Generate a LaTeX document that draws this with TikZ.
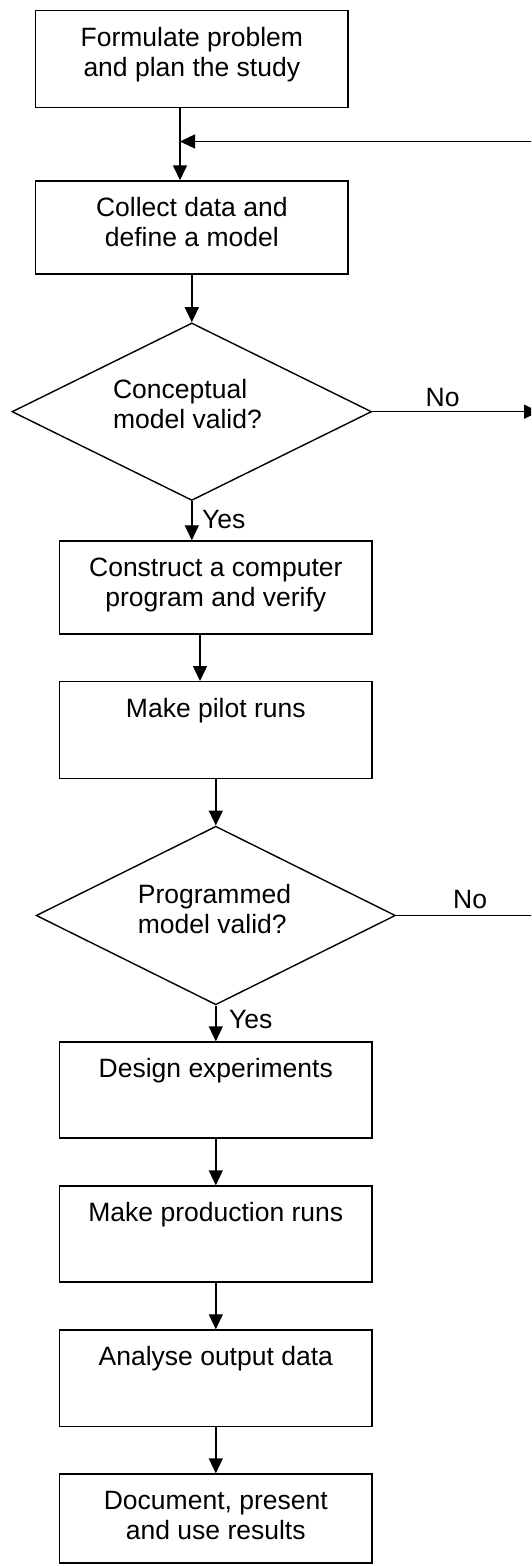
\documentclass[tikz,border=0pt]{standalone}
\usepackage{fontspec}
\setmainfont{Liberation Sans}
\usetikzlibrary{shapes.geometric,arrows.meta,calc}
\begin{document}
\begin{tikzpicture}[x=0.5pt,y=-0.5pt, line width=0.7pt,
  box/.style={draw, rectangle, minimum width=156.3pt, inner sep=0pt},
  dia/.style={draw, diamond, inner sep=0pt},
  txt/.style={inner sep=0pt, align=center, anchor=north, font=\fontsize{13.25}{15}\selectfont},
  dtxt/.style={inner sep=0pt, align=left, anchor=north west, font=\fontsize{13.25}{15}\selectfont},
  lab/.style={inner sep=0pt, anchor=base west, font=\fontsize{13.25}{15}\selectfont},
  arr/.style={-{Triangle[length=7.5pt,width=7pt]}}]
\useasboundingbox (0,0) rectangle (531,1566);
\clip (0,0) rectangle (531,1566);
% boxes and decisions
\node[box, minimum height=48.75pt] (b1) at (191.8,59) {};
\node[box, minimum height=46.5pt] (b2) at (191.8,227.5) {};
\node[dia, minimum width=179.8pt, minimum height=88.75pt] (d1) at (191.8,411.7) {};
\node[box, minimum height=46.5pt] (b3) at (215.8,587.5) {};
\node[box, minimum height=48.3pt] (b4) at (215.8,730) {};
\node[dia, minimum width=179.65pt, minimum height=89.3pt] (d2) at (215.8,915.5) {};
\node[box, minimum height=48pt] (b5) at (215.8,1090) {};
\node[box, minimum height=48pt] (b6) at (215.8,1234) {};
\node[box, minimum height=48.25pt] (b7) at (215.8,1378.2) {};
\node[box, minimum height=44.5pt] (b8) at (215.8,1518.5) {};
% texts
\node[txt] (t1) at (b1.north) {\rule{0pt}{17.9pt}Formulate problem\\and plan the study};
\node[txt] (t2) at (b2.north) {\rule{0pt}{17.9pt}Collect data and\\define a model};
\node[dtxt] (t3) at (112.4,378.2) {\rule{0pt}{10pt}Conceptual\\model valid?};
\node[txt] (t4) at (b3.north) {\rule{0pt}{17.9pt}Construct a computer\\program and verify};
\node[txt] (t5) at (b4.north) {\rule{0pt}{17.9pt}Make pilot runs};
\node[dtxt] (t6) at (137.2,882.3) {\rule{0pt}{10pt}Programmed\\model valid?};
\node[txt] (t7) at (b5.north) {\rule{0pt}{17.9pt}Design experiments};
\node[txt] (t8) at (b6.north) {\rule{0pt}{17.9pt}Make production runs};
\node[txt] (t9) at (b7.north) {\rule{0pt}{17.9pt}Analyse output data};
\node[txt] (t10) at (b8.north) {\rule{0pt}{17.9pt}Document, present\\and use results};
% labels
\node[lab] (no1) at (425,406.7) {No};
\node[lab] (yes1) at (201.5,528.6) {Yes};
\node[lab] (no2) at (452.5,908.3) {No};
\node[lab] (yes2) at (228.3,1028.3) {Yes};
% connectors
\coordinate (s1) at ($(b1.south)+(-11.8,0)$);
\draw[arr] (s1) -- (s1 |- b2.north);
\coordinate (fb) at (545,141.5);
\coordinate (fbm) at (s1 |- fb);
\draw[arr] (fb) -- (fbm);
\draw[arr] (b2.south) -- (d1.north);
\draw[arr] (d1.south) -- (d1.south |- b3.north);
\coordinate (s3) at ($(b3.south)+(-15.8,0)$);
\draw[arr] (s3) -- (s3 |- b4.north);
\draw[arr] (b4.south) -- (d2.north);
\draw[arr] (d2.south) -- (b5.north);
\draw[arr] (b5.south) -- (b6.north);
\draw[arr] (b6.south) -- (b7.north);
\draw[arr] (b7.south) -- (b8.north);
\coordinate (n1) at (539,411.7);
\draw[arr] (d1.east) -- (n1);
\coordinate (n2) at (545,915.5);
\draw (d2.east) -- (n2);
\end{tikzpicture}
\end{document}
